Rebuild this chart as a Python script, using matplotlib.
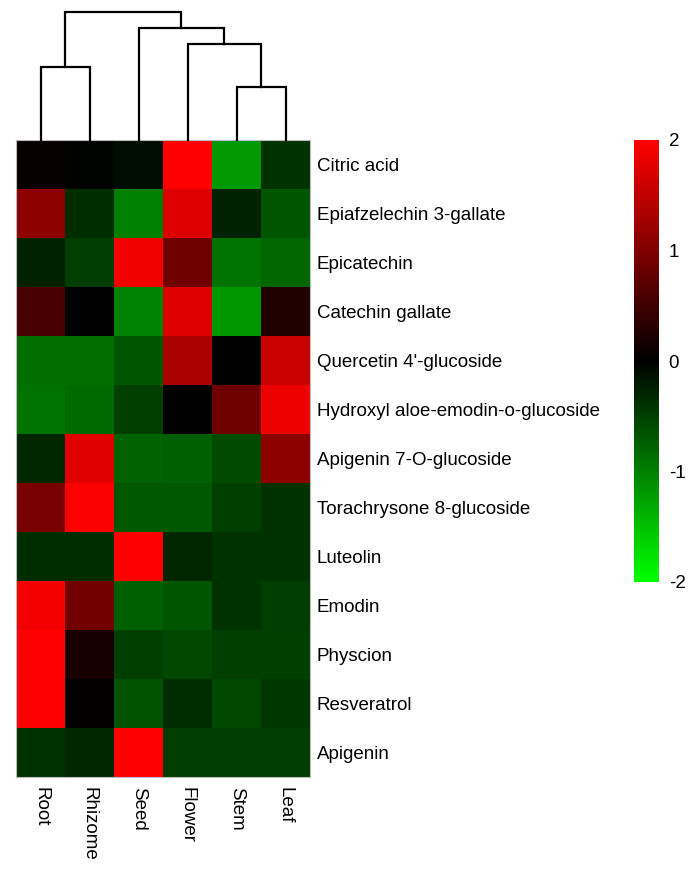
import numpy as np
import matplotlib
matplotlib.use("Agg")
import matplotlib.pyplot as plt
from matplotlib.colors import LinearSegmentedColormap

plt.rcParams['font.family'] = ['Liberation Sans', 'DejaVu Sans']
plt.rcParams['axes.unicode_minus'] = False

samples = ["Root", "Rhizome", "Seed", "Flower", "Stem", "Leaf"]
compounds = ["Citric acid", "Epiafzelechin 3-gallate", "Epicatechin", "Catechin gallate",
             "Quercetin 4'-glucoside", "Hydroxyl aloe-emodin-o-glucoside",
             "Apigenin 7-O-glucoside", "Torachrysone 8-glucoside", "Luteolin",
             "Emodin", "Physcion", "Resveratrol", "Apigenin"]

# z-scores per compound (rows) for each sample (columns)
values = [
    [0.05, -0.03, -0.10, 2.00, -1.20, -0.40],
    [1.10, -0.35, -1.00, 1.72, -0.27, -0.67],
    [-0.27, -0.47, 1.90, 0.86, -0.90, -0.80],
    [0.55, 0.00, -1.02, 1.72, -1.18, 0.27],
    [-0.86, -0.86, -0.67, 1.33, 0.00, 1.57],
    [-0.90, -0.82, -0.50, 0.00, 0.86, 1.85],
    [-0.31, 1.76, -0.78, -0.75, -0.59, 1.10],
    [0.94, 1.96, -0.70, -0.70, -0.50, -0.40],
    [-0.35, -0.35, 2.00, -0.31, -0.40, -0.40],
    [1.92, 0.90, -0.75, -0.67, -0.40, -0.47],
    [2.00, 0.20, -0.50, -0.55, -0.50, -0.50],
    [2.00, 0.04, -0.63, -0.35, -0.55, -0.43],
    [-0.40, -0.31, 2.00, -0.47, -0.47, -0.47],
]

# column dendrogram, scipy-style linkage: (child a, child b, height)
linkage = [
    (0, 1, 2.85),
    (4, 5, 2.07),
    (3, 7, 3.75),
    (2, 8, 4.375),
    (6, 9, 5.0),
]

cmap = LinearSegmentedColormap.from_list("gkr", [(0, 1, 0), (0, 0, 0), (1, 0, 0)])

fig = plt.figure(figsize=(6.95, 8.75), dpi=100)

W, H = 695.0, 875.0
left, right = 16 / W, 310 / W
top_hm, bot_hm = 1 - 140 / H, 1 - 777 / H

ax = fig.add_axes([left, bot_hm, right - left, top_hm - bot_hm])
data = np.array(values)
im = ax.imshow(data, cmap=cmap, vmin=-2, vmax=2, aspect='auto', interpolation='nearest')
ax.set_xticks(range(len(samples)))
ax.set_xticklabels(samples, rotation=-90, fontsize=13.5)
ax.set_yticks(range(len(compounds)))
ax.set_yticklabels(compounds, fontsize=13.5)
ax.yaxis.tick_right()
ax.tick_params(axis='y', length=0, pad=5)
ax.tick_params(axis='x', length=0, pad=7)
for s in ax.spines.values():
    s.set_edgecolor('#bbbbbb')
    s.set_linewidth(0.8)

# dendrogram
axd = fig.add_axes([left, top_hm, right - left, (140 - 12) / H])
pos = {i: (float(i), 0.0) for i in range(len(samples))}
for k, (a, b, h) in enumerate(linkage):
    xa, ha = pos[a]
    xb, hb = pos[b]
    axd.plot([xa, xa, xb, xb], [ha, h, h, hb], color='black', lw=1.6,
             solid_joinstyle='miter', clip_on=False)
    pos[len(samples) + k] = ((xa + xb) / 2, h)
axd.set_xlim(-0.5, len(samples) - 0.5)
axd.set_ylim(0, linkage[-1][2])
axd.axis('off')

# colorbar
cax = fig.add_axes([634 / W, 1 - 582 / H, 25 / W, 442 / H])
cb = fig.colorbar(im, cax=cax, ticks=[-2, -1, 0, 1, 2])
cb.outline.set_visible(False)
cb.ax.tick_params(length=0, labelsize=13.5, pad=7)

fig.savefig("out.png", dpi=100)
